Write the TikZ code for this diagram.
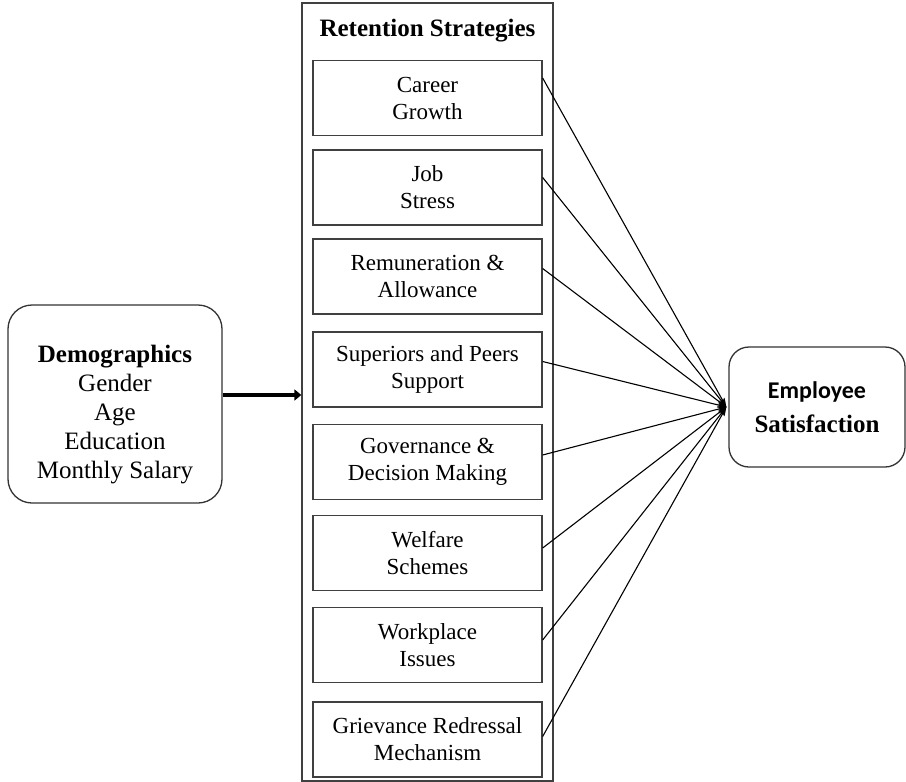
\documentclass[tikz,border=0pt]{standalone}
\usepackage{fontspec}
\setmainfont{Liberation Serif}
\newfontfamily\carlito{Carlito}
\usetikzlibrary{arrows.meta}
\begin{document}
\begin{tikzpicture}[x=1pt,y=-1pt,
  stratbox/.style={draw=black!75, line width=1.3pt, minimum width=229pt, minimum height=75pt,
    align=center, inner sep=0pt, font=\fontsize{23}{27}\selectfont},
  roundbox/.style={draw=black!80, line width=1.3pt, rounded corners=24pt, align=center, inner sep=0pt},
  link/.style={line width=1.1pt, -{Stealth[length=9pt,width=6pt]}},
  bigarrow/.style={line width=4.5pt, -{Triangle[length=7pt,width=11pt]}}
]
\useasboundingbox (0,0) rectangle (906,782);
\node[draw=black!75, line width=1.3pt, minimum width=251pt, minimum height=778pt, inner sep=0pt] (strat) at (427.5,392) {};
\node[font=\bfseries\fontsize{25}{28}\selectfont] (title) at (427.5,31) {Retention Strategies};
\node[stratbox] (s1) at (427.5,98) {Career\\Growth};
\node[stratbox] (s2) at (427.5,187.5) {Job\\Stress};
\node[stratbox] (s3) at (427.5,276.5) {Remuneration \&\\Allowance};
\node[stratbox] (s4) at (427.5,369.5) {Superiors and Peers\\Support};
\node[stratbox] (s5) at (427.5,462) {Governance \&\\Decision Making};
\node[stratbox] (s6) at (427.5,553) {Welfare\\Schemes};
\node[stratbox] (s7) at (427.5,645) {Workplace\\Issues};
\node[stratbox] (s8) at (427.5,739.5) {Grievance Redressal\\Mechanism};
\node[roundbox, minimum width=214pt, minimum height=198pt] (demo) at (115,404) {};
\node[align=center, inner sep=0pt, font=\fontsize{25}{29}\selectfont] (demotxt) at ([yshift=-11pt]demo.center)
  {\textbf{Demographics}\\Gender\\Age\\Education\\Monthly Salary};
\node[roundbox, rounded corners=20pt, minimum width=176pt, minimum height=120pt, font=\fontsize{25}{34}\selectfont] (emp) at (817,407)
  {{\carlito\bfseries\fontsize{24}{34}\selectfont Employee}\\{\bfseries Satisfaction}};
\coordinate (conv) at ([xshift=-2pt]emp.west);
\draw[bigarrow] ([yshift=9pt]demo.east) -- ([yshift=9pt]demo.east -| strat.west);
\draw[link] ([yshift=20pt]s1.east) -- (conv);
\draw[link] ([yshift=10pt]s2.east) -- (conv);
\draw[link] ([yshift=8pt]s3.east) -- (conv);
\draw[link] ([yshift=8pt]s4.east) -- (conv);
\draw[link] ([yshift=7pt]s5.east) -- (conv);
\draw[link] ([yshift=5pt]s6.east) -- (conv);
\draw[link] ([yshift=5pt]s7.east) -- (conv);
\draw[link] ([yshift=3pt]s8.east) -- (conv);
\end{tikzpicture}
\end{document}
